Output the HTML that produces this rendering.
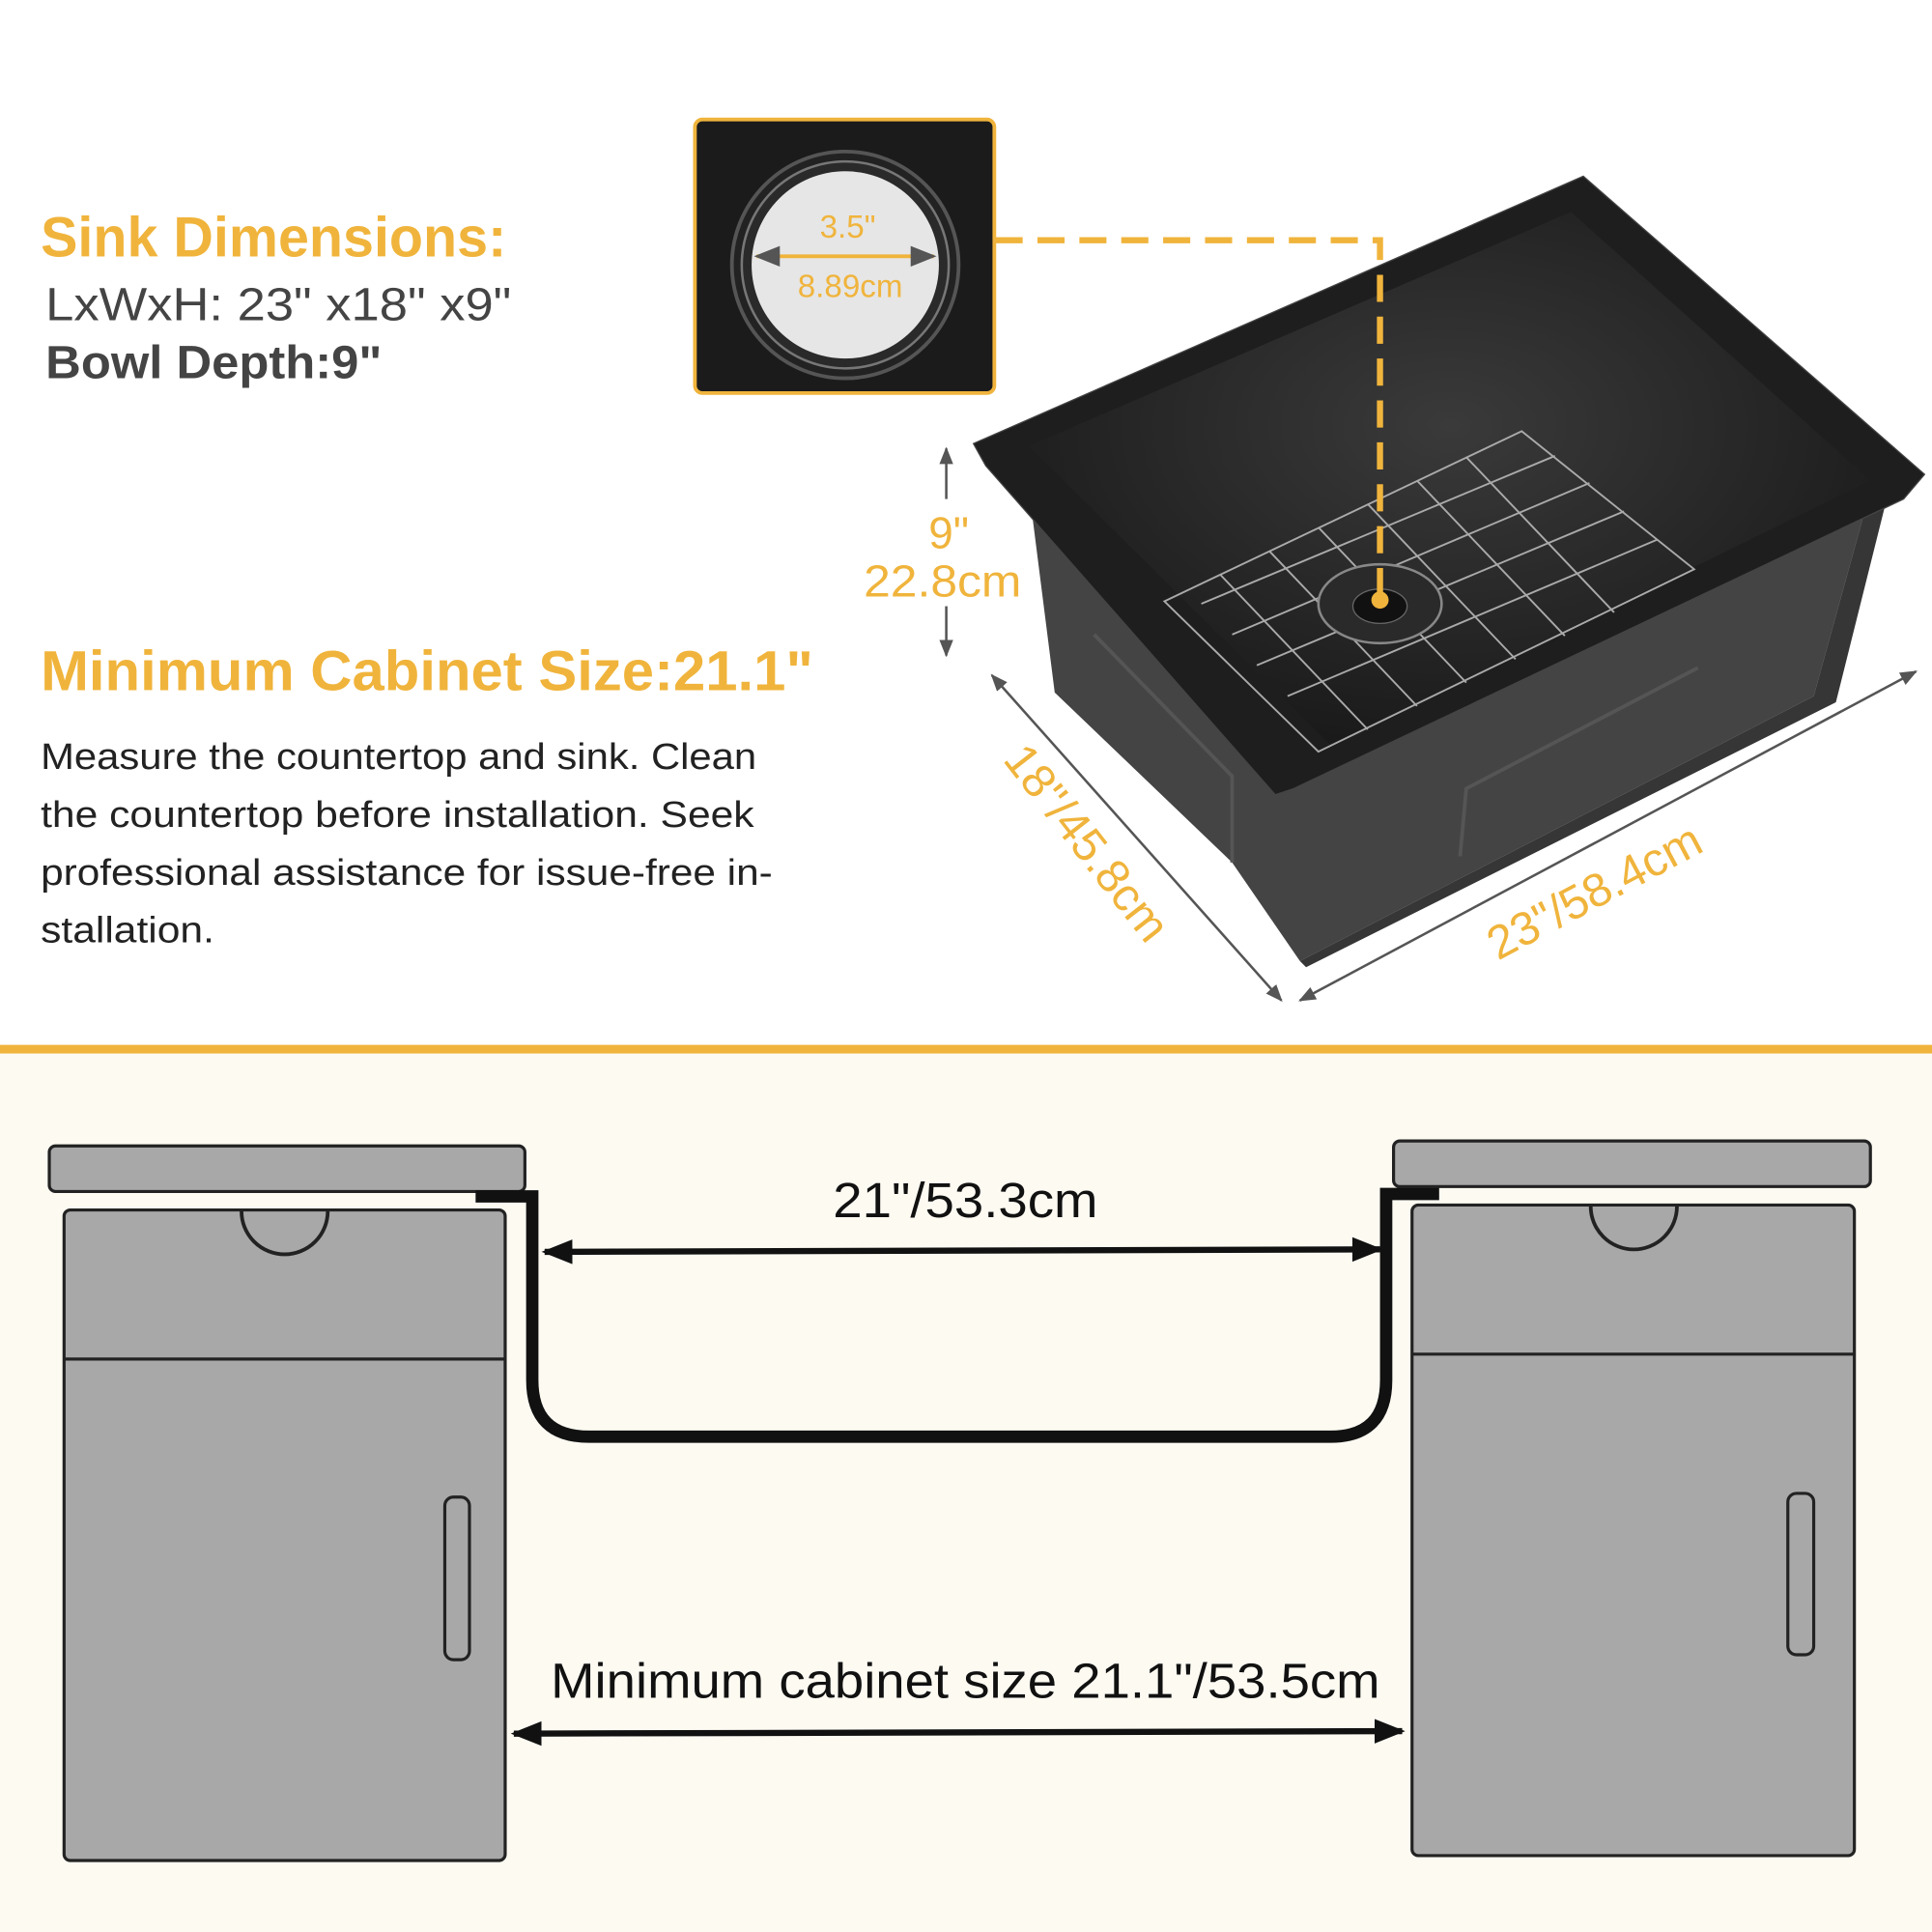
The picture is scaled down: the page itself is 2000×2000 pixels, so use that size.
<!DOCTYPE html>
<html><head><meta charset="utf-8"><style>
html,body{margin:0;padding:0;background:#fff}
svg{display:block}
text{font-family:"Liberation Sans","DejaVu Sans",sans-serif}
</style></head><body>
<svg width="2000" height="2000" viewBox="0 0 1568 1568" xmlns="http://www.w3.org/2000/svg">
<defs>
<marker id="ah" viewBox="0 0 10 10" refX="9" refY="5" markerWidth="7" markerHeight="7" orient="auto-start-reverse"><path d="M0,1 L10,5 L0,9 z" fill="#555"/></marker>
<marker id="bh" viewBox="0 0 10 10" refX="9" refY="5" markerWidth="5" markerHeight="5" orient="auto-start-reverse"><path d="M0,1 L10,5 L0,9 z" fill="#111"/></marker>
<radialGradient id="sg" cx="0.5" cy="0.4" r="0.7"><stop offset="0" stop-color="#3a3a3a"/><stop offset="1" stop-color="#151515"/></radialGradient>
</defs>
<rect width="1568" height="1568" fill="#fff"/>
<rect y="852" width="1568" height="716" fill="#fdfaf2"/>
<rect y="848" width="1568" height="7" fill="#f0b43c"/>

<g lengthAdjust="spacingAndGlyphs">
<text x="33" y="208" font-size="46" font-weight="bold" fill="#f0b43c" textLength="378" lengthAdjust="spacingAndGlyphs">Sink Dimensions:</text>
<text x="37" y="260" font-size="38" fill="#444" textLength="378" lengthAdjust="spacingAndGlyphs">LxWxH: 23" x18" x9"</text>
<text x="37" y="307" font-size="38" font-weight="bold" fill="#444" textLength="273" lengthAdjust="spacingAndGlyphs">Bowl Depth:9"</text>
<text x="33" y="560" font-size="46" font-weight="bold" fill="#f0b43c" textLength="627" lengthAdjust="spacingAndGlyphs">Minimum Cabinet Size:21.1"</text>
<g font-size="30" fill="#222">
<text x="33" y="624" textLength="581" lengthAdjust="spacingAndGlyphs">Measure the countertop and sink. Clean</text>
<text x="33" y="671" textLength="579" lengthAdjust="spacingAndGlyphs">the countertop before installation. Seek</text>
<text x="33" y="718" textLength="594" lengthAdjust="spacingAndGlyphs">professional assistance for issue-free in-</text>
<text x="33" y="765" textLength="141" lengthAdjust="spacingAndGlyphs">stallation.</text>
</g>
</g>

<!-- drain inset -->
<rect x="564" y="97" width="243" height="222" rx="6" fill="#1b1b1b" stroke="#f0b43c" stroke-width="3"/>
<circle cx="686" cy="215" r="92" fill="#222" stroke="#555" stroke-width="3"/>
<circle cx="686" cy="215" r="84" fill="#2a2a2a" stroke="#777" stroke-width="2"/>
<circle cx="686" cy="215" r="76" fill="#e6e6e6"/>
<line x1="614" y1="208" x2="758" y2="208" stroke="#f0b43c" stroke-width="3" marker-start="url(#ah)" marker-end="url(#ah)"/>
<text x="688" y="193" font-size="26" fill="#f0b43c" text-anchor="middle">3.5"</text>
<text x="690" y="241" font-size="26" fill="#f0b43c" text-anchor="middle">8.89cm</text>

<!-- sink -->
<polygon points="838,420 1512,420 1472,565 1055,780 1000,700 856,562" fill="#444"/>
<polygon points="1055,780 1472,565 1512,420 1530,410 1490,570 1060,785" fill="#363636"/>
<polygon points="790,360 1285,143 1562,385 1545,405 1050,640 1035,645 800,378" fill="#1e1e1e" stroke="#444" stroke-width="1"/>
<polygon points="835,362 1275,172 1518,390 1080,605" fill="url(#sg)"/>
<path d="M888,515 L1000,630 L1000,700" fill="none" stroke="#555" stroke-width="3"/>
<path d="M1185,695 L1190,640 L1378,542" fill="none" stroke="#555" stroke-width="3"/>
<g stroke="#aaa" stroke-width="1.5" fill="none">
<polygon points="945,488 1235,350 1375,462 1070,610"/>
<line x1="975" y1="490" x2="1262" y2="370"/>
<line x1="1000" y1="515" x2="1290" y2="392"/>
<line x1="1020" y1="540" x2="1318" y2="415"/>
<line x1="1045" y1="565" x2="1345" y2="438"/>
<line x1="990" y1="466" x2="1110" y2="592"/><line x1="1030" y1="447" x2="1150" y2="573"/>
<line x1="1070" y1="428" x2="1190" y2="554"/><line x1="1110" y1="409" x2="1230" y2="535"/>
<line x1="1150" y1="390" x2="1270" y2="516"/><line x1="1190" y1="371" x2="1310" y2="497"/>
</g>
<ellipse cx="1120" cy="490" rx="50" ry="32" fill="#2a2a2a" stroke="#888" stroke-width="2"/>
<ellipse cx="1120" cy="492" rx="22" ry="14" fill="#111" stroke="#666"/>

<path d="M808,195 L1120,195 L1120,485" fill="none" stroke="#f0b43c" stroke-width="5" stroke-dasharray="22,12"/>
<circle cx="1120" cy="487" r="7" fill="#f0b43c"/>

<line x1="768" y1="405" x2="768" y2="364" stroke="#555" stroke-width="2" marker-end="url(#ah)"/>
<line x1="768" y1="492" x2="768" y2="532" stroke="#555" stroke-width="2" marker-end="url(#ah)"/>
<text x="770" y="445" font-size="36" fill="#f0b43c" text-anchor="middle">9"</text>
<text x="765" y="484" font-size="36" fill="#f0b43c" text-anchor="middle" textLength="128" lengthAdjust="spacingAndGlyphs">22.8cm</text>
<line x1="805" y1="548" x2="1040" y2="812" stroke="#555" stroke-width="2" marker-start="url(#ah)" marker-end="url(#ah)"/>
<text transform="translate(872,692) rotate(52)" font-size="38" fill="#f0b43c" text-anchor="middle">18"/45.8cm</text>
<line x1="1055" y1="812" x2="1555" y2="545" stroke="#555" stroke-width="2" marker-start="url(#ah)" marker-end="url(#ah)"/>
<text transform="translate(1300,735) rotate(-28)" font-size="38" fill="#f0b43c" text-anchor="middle">23"/58.4cm</text>

<g stroke="#222" stroke-width="2.5" fill="#a8a8a8">
<rect x="40" y="930" width="386" height="37" rx="5"/>
<rect x="52" y="982" width="358" height="528" rx="5"/>
<line x1="52" y1="1103" x2="410" y2="1103"/>
<rect x="361" y="1215" width="20" height="132" rx="7"/>
<rect x="1131" y="926" width="387" height="37" rx="5"/>
<rect x="1146" y="978" width="359" height="528" rx="5"/>
<line x1="1146" y1="1099" x2="1505" y2="1099"/>
<rect x="1451" y="1212" width="21" height="131" rx="7"/>
</g>
<path d="M196,983 A35,35 0 0 0 266,983" fill="none" stroke="#222" stroke-width="3"/>
<path d="M1291,979 A35,35 0 0 0 1361,979" fill="none" stroke="#222" stroke-width="3"/>
<path d="M386,971 L432,971 L432,1120 Q432,1166 478,1166 L1080,1166 Q1125,1166 1125,1120 L1125,969 L1168,969" fill="none" stroke="#111" stroke-width="10"/>

<line x1="442" y1="1016" x2="1120" y2="1014" stroke="#111" stroke-width="5" marker-start="url(#bh)" marker-end="url(#bh)"/>
<text x="676" y="988" font-size="40" fill="#111" textLength="215" lengthAdjust="spacingAndGlyphs">21"/53.3cm</text>
<line x1="417" y1="1407" x2="1138" y2="1405" stroke="#111" stroke-width="5" marker-start="url(#bh)" marker-end="url(#bh)"/>
<text x="447" y="1378" font-size="40" fill="#111" textLength="673" lengthAdjust="spacingAndGlyphs">Minimum cabinet size 21.1"/53.5cm</text>
</svg>
</body></html>
